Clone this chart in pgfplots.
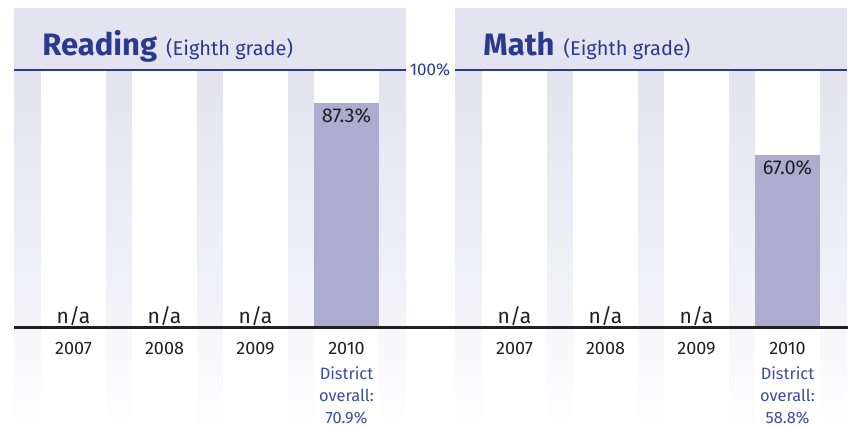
\documentclass[border=0pt]{standalone}
\usepackage{fontspec}
\setmainfont{Fira Sans}
\usepackage{pgfplots}
\pgfplotsset{compat=1.18}
\definecolor{navy}{RGB}{42,59,143}
\definecolor{lav}{RGB}{228,228,240}
\definecolor{lavmid}{RGB}{243,243,248}
\definecolor{lavlow}{RGB}{247,247,250}
\definecolor{lavbot}{RGB}{254,254,255}
\definecolor{barcol}{RGB}{172,172,208}
\definecolor{distblue}{RGB}{59,78,160}
\definecolor{darktext}{RGB}{35,31,32}
\pgfplotsset{panel/.style={
  set layers,
  scale only axis, width=196pt, height=128.5pt,
  xmin=-0.654, xmax=3.654, ymin=0, ymax=100,
  clip=false, axis line style={draw=none}, ytick=\empty,
  xtick={0,1,2,3}, xticklabels={2007,2008,2009,2010}, major tick length=0pt,
  xticklabel style={anchor=north, inner sep=0pt, yshift=-7.5pt,
    font=\fontsize{9}{11.3}\selectfont, text=darktext},
}}
\newcommand{\panelbg}{%
  \begin{pgfonlayer}{axis background}
  \fill[lav] (axis cs:-0.654,100) rectangle (axis cs:3.654,124.12);
  \shade[top color=lav, bottom color=lavmid] (axis cs:-0.654,0) rectangle (axis cs:3.654,100);
  \shade[top color=lavlow, bottom color=lavbot] (axis cs:-0.654,-38.13) rectangle (axis cs:3.654,0);
  \fill[white] (axis cs:-0.357,-38.13) rectangle (axis cs:0.357,100);
  \fill[white] (axis cs:0.643,-38.13) rectangle (axis cs:1.357,100);
  \fill[white] (axis cs:1.643,-38.13) rectangle (axis cs:2.357,100);
  \fill[white] (axis cs:2.643,-38.13) rectangle (axis cs:3.357,100);
  \end{pgfonlayer}
  \draw[navy, line width=1.35pt] (axis cs:-0.654,100) -- (axis cs:3.654,100);
}
\newcommand{\nalabels}{%
  \node[anchor=base, text=darktext, font=\fontsize{10.5}{12}\selectfont, inner sep=0pt] at (axis cs:0,1.4) {n/a};
  \node[anchor=base, text=darktext, font=\fontsize{10.5}{12}\selectfont, inner sep=0pt] at (axis cs:1,1.4) {n/a};
  \node[anchor=base, text=darktext, font=\fontsize{10.5}{12}\selectfont, inner sep=0pt] at (axis cs:2,1.4) {n/a};
}
\tikzset{dist/.style={anchor=north, inner sep=0pt, align=center, text=distblue,
  font=\fontsize{8.2}{11}\selectfont}}
\begin{document}
\begin{tikzpicture}
% Reading
\begin{axis}[panel, at={(7pt,49pt)}, anchor=south west]
  \panelbg
  \node[anchor=base west, inner sep=0pt, text=navy] at (axis cs:-0.346,105.8)
    {\fontsize{15.5}{18}\selectfont\bfseries Reading\hspace{4.5pt}\fontsize{10}{12}\selectfont\mdseries(Eighth grade)};
  \addplot[ybar, bar width=0.714, fill=barcol, draw=none, point meta=explicit symbolic,
    nodes near coords, nodes near coords style={anchor=north, text=darktext,
    font=\fontsize{10}{12}\selectfont, inner sep=2.6pt}]
    coordinates {(3,87.3) [87.3\%]};
  \nalabels
  \node[dist] at (axis cs:3,-15.2) {District\\overall:\\70.9\%};
\end{axis}
% Math
\begin{axis}[panel, at={(227.5pt,49pt)}, anchor=south west]
  \panelbg
  \node[anchor=base west, inner sep=0pt, text=navy] at (axis cs:-0.346,105.8)
    {\fontsize{15.5}{18}\selectfont\bfseries Math\hspace{4.5pt}\fontsize{10}{12}\selectfont\mdseries(Eighth grade)};
  \addplot[ybar, bar width=0.714, fill=barcol, draw=none, point meta=explicit symbolic,
    nodes near coords, nodes near coords style={anchor=north, text=darktext,
    font=\fontsize{10}{12}\selectfont, inner sep=2.6pt}]
    coordinates {(3,67.0) [67.0\%]};
  \nalabels
  \node[dist] at (axis cs:3,-15.2) {District\\overall:\\58.8\%};
  \draw[darktext, line width=1.5pt] (axis cs:-5.5,-0.3) -- (axis cs:3.67,-0.3);
  \node[text=navy, font=\fontsize{8.5}{10}\selectfont, inner sep=0pt] at (axis cs:-0.929,100) {100\%};
\end{axis}
\pgfresetboundingbox
\path[use as bounding box] (0,0) rectangle (424pt,212.5pt);
\end{tikzpicture}
\end{document}
